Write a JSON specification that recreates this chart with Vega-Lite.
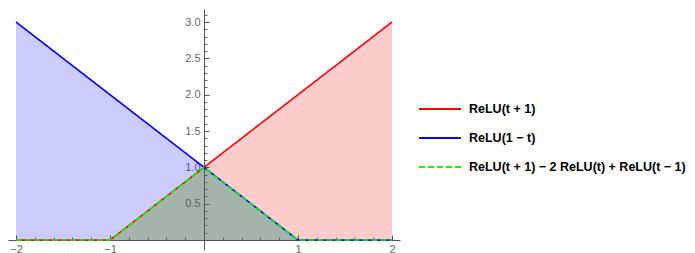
{
  "$schema": "https://vega.github.io/schema/vega-lite/v6.json",
  "width": 392,
  "height": 241,
  "autosize": "none",
  "padding": {"left": 8, "top": 9, "right": 295, "bottom": 3},
  "background": "white",
  "data": {"values": [
    {"series": "ReLU(t + 1)", "t": -2, "v": 0},
    {"series": "ReLU(t + 1)", "t": -1, "v": 0},
    {"series": "ReLU(t + 1)", "t": 2, "v": 3},
    {"series": "ReLU(1 − t)", "t": -2, "v": 3},
    {"series": "ReLU(1 − t)", "t": 1, "v": 0},
    {"series": "ReLU(1 − t)", "t": 2, "v": 0},
    {"series": "ReLU(t + 1) − 2 ReLU(t) + ReLU(t − 1)", "t": -2, "v": 0},
    {"series": "ReLU(t + 1) − 2 ReLU(t) + ReLU(t − 1)", "t": -1, "v": 0},
    {"series": "ReLU(t + 1) − 2 ReLU(t) + ReLU(t − 1)", "t": 0, "v": 1},
    {"series": "ReLU(t + 1) − 2 ReLU(t) + ReLU(t − 1)", "t": 1, "v": 0},
    {"series": "ReLU(t + 1) − 2 ReLU(t) + ReLU(t − 1)", "t": 2, "v": 0}
  ]},
  "resolve": {"axis": {"x": "independent", "y": "independent"}},
  "layer": [
    {
      "mark": {"type": "area", "fillOpacity": 0.2},
      "encoding": {
        "x": {"field": "t", "type": "quantitative", "scale": {"domain": [-2.085, 2.085], "nice": false, "zero": false},
          "axis": {"orient": "bottom", "offset": -10, "values": [-1.8,-1.6,-1.4,-1.2,-0.8,-0.6,-0.4,-0.2,0.2,0.4,0.6,0.8,1.2,1.4,1.6,1.8], "labels": false, "domain": false, "tickSize": -3, "tickColor": "#666", "title": null}},
        "y": {"field": "v", "type": "quantitative", "scale": {"domain": [-0.1376, 3.179], "nice": false, "zero": false},
          "axis": {"orient": "left", "offset": -196, "values": [0.1,0.2,0.3,0.4,0.6,0.7,0.8,0.9,1.1,1.2,1.3,1.4,1.6,1.7,1.8,1.9,2.1,2.2,2.3,2.4,2.6,2.7,2.8,2.9,3.1], "labels": false, "domain": false, "tickSize": -3, "tickColor": "#666", "title": null}},
        "y2": {"datum": 0},
        "color": {"field": "series", "type": "nominal",
          "scale": {"domain": ["ReLU(t + 1)", "ReLU(1 − t)", "ReLU(t + 1) − 2 ReLU(t) + ReLU(t − 1)"], "range": ["#ff0000", "#0000ff", "#00ff00"]}}
      }
    },
    {
      "transform": [{"filter": "datum.series != 'ReLU(t + 1) − 2 ReLU(t) + ReLU(t − 1)'"}],
      "mark": {"type": "line", "strokeWidth": 1.6},
      "encoding": {
        "x": {"field": "t", "type": "quantitative",
          "axis": {"orient": "bottom", "offset": -10, "values": [-2, -1, 1, 2], "format": "d", "tickSize": 0, "domainColor": "#555", "labelColor": "#666", "labelFontSize": 11, "labelPadding": 3, "title": null}},
        "y": {"field": "v", "type": "quantitative",
          "axis": {"orient": "left", "offset": -196, "values": [0.5, 1, 1.5, 2, 2.5, 3], "format": ".1f", "tickSize": 0, "domainColor": "#555", "labelColor": "#666", "labelFontSize": 11, "labelPadding": 4, "title": null}},
        "color": {"field": "series", "type": "nominal",
          "legend": {"title": null, "orient": "none", "legendX": 410, "legendY": 78, "symbolType": "stroke", "symbolSize": 1764, "symbolStrokeWidth": 2, "labelFont": "Liberation Sans", "labelFontWeight": "bold", "labelFontSize": 12.5, "labelColor": "black", "rowPadding": -20, "labelOffset": 7, "labelLimit": 400}},
        "strokeDash": {"field": "series", "type": "nominal",
          "scale": {"domain": ["ReLU(t + 1)", "ReLU(1 − t)", "ReLU(t + 1) − 2 ReLU(t) + ReLU(t − 1)"], "range": [[1, 0], [1, 0], [6, 3]]},
          "legend": {"title": null, "orient": "none", "legendX": 410, "legendY": 78, "symbolType": "stroke", "symbolSize": 1764, "symbolStrokeWidth": 2, "labelFont": "Liberation Sans", "labelFontWeight": "bold", "labelFontSize": 12.5, "labelColor": "black", "rowPadding": -20, "labelOffset": 7, "labelLimit": 400}}
      }
    },
    {
      "transform": [{"filter": "datum.series == 'ReLU(t + 1) − 2 ReLU(t) + ReLU(t − 1)'"}],
      "mark": {"type": "line", "strokeWidth": 1.6},
      "encoding": {
        "x": {"field": "t", "type": "quantitative",
          "axis": {"orient": "bottom", "offset": -10, "values": [-2, -1, 1, 2], "labels": false, "domain": false, "tickSize": -5, "tickColor": "#555", "title": null}},
        "y": {"field": "v", "type": "quantitative",
          "axis": {"orient": "left", "offset": -196, "values": [0.5, 1, 1.5, 2, 2.5, 3], "labels": false, "domain": false, "tickSize": -5, "tickColor": "#555", "title": null}},
        "color": {"field": "series", "type": "nominal"},
        "strokeDash": {"field": "series", "type": "nominal"}
      }
    }
  ],
  "config": {
    "view": {"stroke": null},
    "font": "Liberation Sans",
    "axis": {"grid": false}
  }
}
